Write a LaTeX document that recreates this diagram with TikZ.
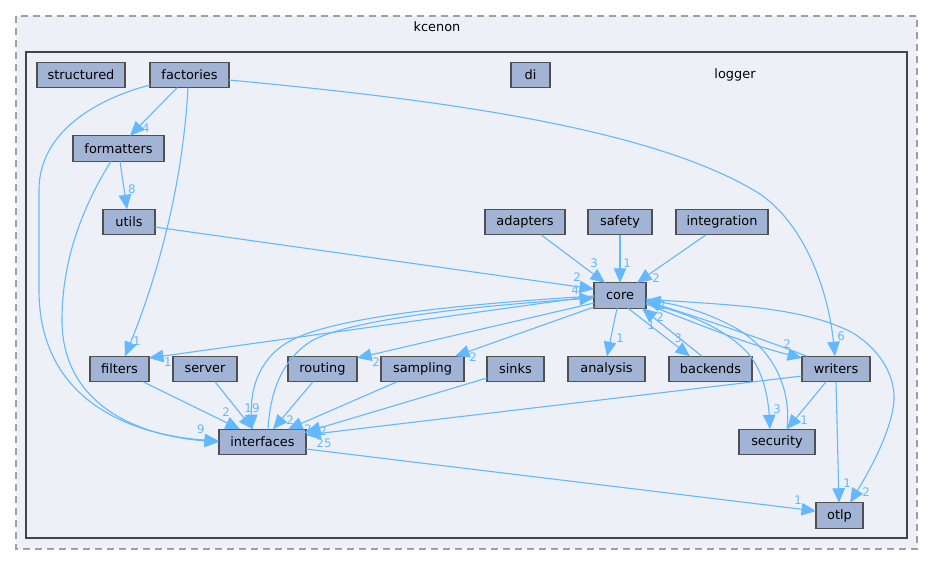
\documentclass[tikz,border=0pt]{standalone}
\usepackage{fontspec}
\setmainfont{DejaVu Sans}
\usetikzlibrary{arrows.meta}
\definecolor{edgeblue}{HTML}{63B8FF}
\definecolor{boxfill}{HTML}{A2B4D6}
\definecolor{clusterfill}{HTML}{EDF0F7}
\definecolor{boxline}{HTML}{505050}
\definecolor{frameline}{HTML}{444444}
\definecolor{dashline}{HTML}{A0A0A0}
\tikzset{
  dirbox/.style={draw=boxline,fill=boxfill,line width=1.1pt,inner sep=0pt,outer sep=0pt,minimum height=25.5pt,text=black,font=\fontsize{12.9}{15}\selectfont},
  edge/.style={draw=edgeblue,line width=1.1pt,-{Stealth[inset=0pt,length=14.5pt,width=12.5pt]}},
  lab/.style={text=edgeblue,inner sep=0pt,font=\fontsize{11.8}{13}\selectfont},
  title/.style={text=black,inner sep=0pt,font=\fontsize{12.9}{15}\selectfont}
}
\begin{document}
\begin{tikzpicture}[x=1pt,y=-1pt]
\useasboundingbox (0,0) rectangle (933,565);
\draw[dashline,fill=clusterfill,line width=1.3pt,dash pattern=on 7pt off 5pt] (16,16) rectangle (917,549);
\draw[frameline,fill=clusterfill,line width=2.6pt] (26,52) rectangle (907,538);
\node[title] (tkcenon) at (437,26.5) {kcenon};
\node[title] (tlogger) at (735,74.5) {logger};
% boxes
\node[dirbox,minimum width=88pt] (structured) at (81,75) {structured};
\node[dirbox,minimum width=79pt] (factories) at (189.5,75) {factories};
\node[dirbox,minimum width=39pt] (di) at (530.5,75) {di};
\node[dirbox,minimum width=91pt] (formatters) at (118.5,148.5) {formatters};
\node[dirbox,minimum width=52pt] (utils) at (129,222) {utils};
\node[dirbox,minimum width=80pt] (adapters) at (525,222) {adapters};
\node[dirbox,minimum width=64pt] (safety) at (620,222) {safety};
\node[dirbox,minimum width=92pt] (integration) at (722,222) {integration};
\node[dirbox,minimum width=52pt] (core) at (620,295.5) {core};
\node[dirbox,minimum width=59pt] (filters) at (119.5,369) {filters};
\node[dirbox,minimum width=64pt] (server) at (205,369) {server};
\node[dirbox,minimum width=69pt] (routing) at (322.5,369) {routing};
\node[dirbox,minimum width=83pt] (sampling) at (422.5,369) {sampling};
\node[dirbox,minimum width=57pt] (sinks) at (515.5,369) {sinks};
\node[dirbox,minimum width=77pt] (analysis) at (606.5,369) {analysis};
\node[dirbox,minimum width=83pt] (backends) at (710.5,369) {backends};
\node[dirbox,minimum width=68pt] (writers) at (836,369) {writers};
\node[dirbox,minimum width=87pt] (interfaces) at (262.5,442) {interfaces};
\node[dirbox,minimum width=76pt] (security) at (777,442) {security};
\node[dirbox,minimum width=47pt] (otlp) at (839.5,515.5) {otlp};
% edges from factories
\draw[edge] (factories.west |- 0,85) .. controls (100,98) and (39,130) .. (39,190) -- (39,290) .. controls (39,400) and (130,435) .. (interfaces.west |- 0,441);
\draw[edge] (111,0 |- formatters.south) .. controls (90,195) and (62,250) .. (62,320) .. controls (62,400) and (130,435) .. (interfaces.west |- 0,442);
\draw[edge] (177,0 |- factories.south) -- (130,0 |- formatters.north);
\draw[edge] (188,0 |- factories.south) .. controls (183,180) and (160,270) .. (125,0 |- filters.north);
\draw[edge] (factories.east |- 0,80) .. controls (420,98) and (650,125) .. (760,194) .. controls (805,225) and (828,290) .. (835,0 |- writers.north);
% upper part
\draw[edge] (120,0 |- formatters.south) -- (127,0 |- utils.north);
\draw[edge] (utils.east |- 0,227) -- (core.west |- 0,289);
\draw[edge] (541,0 |- adapters.south) -- (605,0 |- core.north);
\draw[edge] (620,0 |- safety.south) -- (620,0 |- core.north);
\draw[edge] (706,0 |- integration.south) -- (637,0 |- core.north);
% core downwards
\draw[edge] (617,0 |- core.south) -- (607,0 |- analysis.north);
\draw[edge] (628,0 |- core.south) -- (690,0 |- backends.north);
\draw[edge] (702,0 |- backends.north) -- (642,0 |- core.south);
\draw[edge] (core.west |- 0,296) -- (filters.east |- 0,358);
\draw[edge] (core.west |- 0,303) -- (routing.east |- 0,358);
\draw[edge] (core.west |- 0,307) -- (455,0 |- sampling.north);
\draw[edge] (core.west |- 0,296) .. controls (480,303) and (340,315) .. (292,340) .. controls (262,355) and (250,385) .. (252,0 |- interfaces.north);
\draw[edge] (268,0 |- interfaces.north) .. controls (270,395) and (280,360) .. (313,340) .. controls (360,317) and (490,305) .. (core.west |- 0,298);
% core right side
\draw[edge] (core.east |- 0,303) .. controls (690,313) and (725,330) .. (745,350) .. controls (762,367) and (768,395) .. (770,0 |- security.north);
\draw[edge] (787,0 |- security.north) .. controls (792,385) and (770,345) .. (730,325) .. controls (705,312) and (680,305) .. (core.east |- 0,300);
\draw[edge] (core.east |- 0,304) .. controls (700,325) and (750,345) .. (writers.west |- 0,358);
\draw[edge] (807,0 |- writers.north) .. controls (760,338) and (700,318) .. (core.east |- 0,301);
\draw[edge] (core.east |- 0,299) .. controls (720,305) and (800,305) .. (853,333) .. controls (880,350) and (895,375) .. (894,400) .. controls (892,430) and (870,470) .. (850,0 |- otlp.north);
% to interfaces
\draw[edge] (143,0 |- filters.south) -- (240,0 |- interfaces.north);
\draw[edge] (215,0 |- server.south) -- (253,0 |- interfaces.north);
\draw[edge] (313,0 |- routing.south) -- (273,0 |- interfaces.north);
\draw[edge] (397,0 |- sampling.south) -- (288,0 |- interfaces.north);
\draw[edge] (sinks.west |- 0,378) -- (interfaces.east |- 0,432);
\draw[edge] (writers.west |- 0,376) -- (interfaces.east |- 0,435);
% to otlp and security
\draw[edge] (interfaces.east |- 0,449) -- (otlp.west |- 0,511);
\draw[edge] (826,0 |- writers.south) -- (787,0 |- security.north);
\draw[edge] (836,0 |- writers.south) -- (839,0 |- otlp.north);
% labels
\node[lab] (l1) at (146,128) {4};
\node[lab] (l2) at (132,189) {8};
\node[lab] (l3) at (137,341) {1};
\node[lab] (l4) at (841,336) {6};
\node[lab] (l5) at (577,277.5) {2};
\node[lab] (l6) at (575,290) {4};
\node[lab] (l7) at (594,263) {3};
\node[lab] (l8) at (627,263) {1};
\node[lab] (l9) at (656,278) {2};
\node[lab] (l10) at (620,338) {1};
\node[lab] (l11) at (678,338) {3};
\node[lab] (l12) at (651,325) {1};
\node[lab] (l13) at (660,317.5) {2};
\node[lab] (l14) at (662,305.5) {2};
\node[lab] (l15) at (787,344) {2};
\node[lab] (l16) at (777,409) {3};
\node[lab] (l17) at (804,420) {1};
\node[lab] (l18) at (847,483) {1};
\node[lab] (l19) at (866,492) {2};
\node[lab] (l20) at (798,500) {1};
\node[lab] (l21) at (324,443.5) {25};
\node[lab] (l22) at (323,431) {2};
\node[lab] (l23) at (308,429) {2};
\node[lab] (l24) at (290,420) {2};
\node[lab] (l25) at (252,408) {19};
\node[lab] (l26) at (226,412) {2};
\node[lab] (l27) at (201,429) {9};
\node[lab] (l28) at (168,362) {1};
\node[lab] (l29) at (376,362) {2};
\node[lab] (l30) at (473,357) {2};
\end{tikzpicture}
\end{document}
